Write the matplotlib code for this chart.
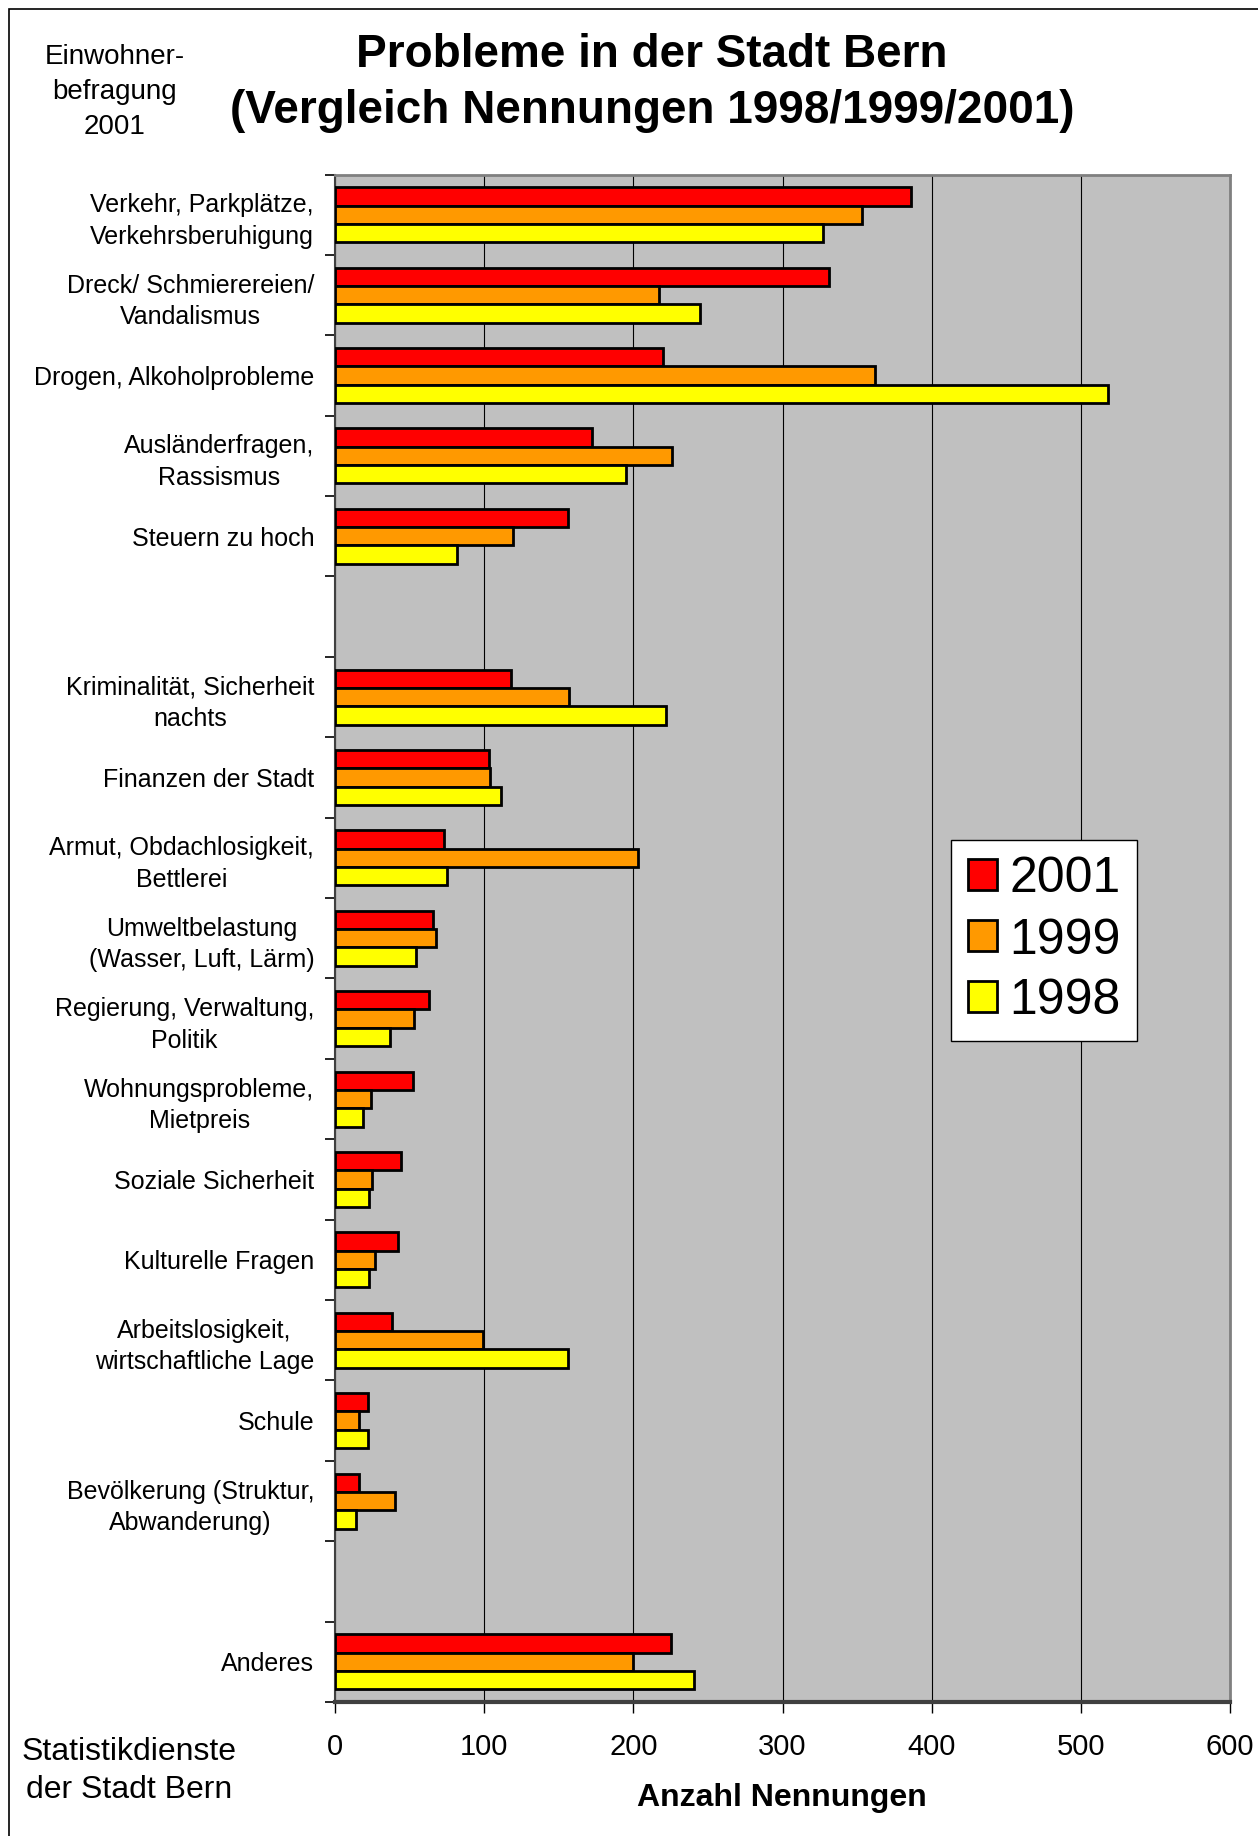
import matplotlib.pyplot as plt
import numpy as np

plt.rcParams['font.family'] = ['Liberation Sans', 'DejaVu Sans']

# categories from top to bottom, '' = empty slot in the chart
labels = [
    "Verkehr, Parkplätze,\nVerkehrsberuhigung",
    "Dreck/ Schmierereien/\nVandalismus",
    "Drogen, Alkoholprobleme",
    "Ausländerfragen,\nRassismus",
    "Steuern zu hoch",
    "",
    "Kriminalität, Sicherheit\nnachts",
    "Finanzen der Stadt",
    "Armut, Obdachlosigkeit,\nBettlerei",
    "Umweltbelastung\n(Wasser, Luft, Lärm)",
    "Regierung, Verwaltung,\nPolitik",
    "Wohnungsprobleme,\nMietpreis",
    "Soziale Sicherheit",
    "Kulturelle Fragen",
    "Arbeitslosigkeit,\nwirtschaftliche Lage",
    "Schule",
    "Bevölkerung (Struktur,\nAbwanderung)",
    "",
    "Anderes",
]

v2001 = [386, 331, 220, 172, 156, None, 118, 103, 73, 66, 63, 52, 44, 42, 38, 22, 16, None, 225]
v1999 = [353, 217, 362, 226, 119, None, 157, 104, 203, 68, 53, 24, 25, 27, 99, 16, 40, None, 200]
v1998 = [327, 245, 518, 195, 82, None, 222, 111, 75, 54, 37, 19, 23, 23, 156, 22, 14, None, 241]

series = [("2001", v2001, "#FF0000"), ("1999", v1999, "#FF9900"), ("1998", v1998, "#FFFF00")]

fig = plt.figure(figsize=(12.58, 18.36), dpi=100)
ax = fig.add_axes([335 / 1258, 1 - 1702 / 1836, (1230 - 335) / 1258, (1702 - 174.5) / 1836])
ax.set_facecolor("#C0C0C0")

n = len(labels)
h = 0.228
for k, (name, vals, col) in enumerate(series):
    idx = [i for i, v in enumerate(vals) if v is not None]
    ys = np.array(idx) + (k - 1) * h
    ax.barh(ys, [vals[i] for i in idx], height=h, color=col, edgecolor="black",
            linewidth=2, label=name, zorder=3)

ax.set_xlim(0, 600)
ax.set_ylim(n - 0.5, -0.5)
ax.set_xticks(range(0, 601, 100))
ax.xaxis.grid(True, color="black", linewidth=0.8, zorder=0)
ax.tick_params(axis="x", length=8, width=1, labelsize=21, pad=14, direction="out")

ax.set_yticks(np.arange(-0.5, n, 1))
ax.set_yticklabels([])
ax.tick_params(axis="y", which="major", length=7, width=1.2, direction="out")
ax.set_yticks(range(n), minor=True)
ax.set_yticklabels(labels, minor=True, fontsize=18, multialignment="center", linespacing=1.4)
ax.tick_params(axis="y", which="minor", length=0, pad=15)

for s in ["top", "right"]:
    ax.spines[s].set_color("#808080")
    ax.spines[s].set_linewidth(2)
ax.spines["left"].set_color("#404040")
ax.spines["left"].set_linewidth(1.5)
ax.spines["bottom"].set_color("#404040")
ax.spines["bottom"].set_linewidth(3)

leg = ax.legend(loc="upper left", bbox_to_anchor=((951 - 335) / 895, 1 - (840 - 174.5) / 1527.5),
                fontsize=36, frameon=True, fancybox=False, edgecolor="black", framealpha=1,
                handlelength=0.58, handleheight=0.58, handletextpad=0.25, borderpad=0.33,
                labelspacing=0.3, borderaxespad=0)
leg.get_frame().set_linewidth(1)
leg.get_frame().set_facecolor("white")

fig.text(652 / 1258, 1 - 55 / 1836, "Probleme in der Stadt Bern", ha="center", va="center",
         fontsize=33, fontweight="bold")
fig.text(652 / 1258, 1 - 111 / 1836, "(Vergleich Nennungen 1998/1999/2001)", ha="center",
         va="center", fontsize=33, fontweight="bold")
fig.text(115 / 1258, 1 - 92 / 1836, "Einwohner-\nbefragung\n2001", ha="center", va="center",
         fontsize=20, linespacing=1.45)
fig.text(129 / 1258, 1 - 1771 / 1836, "Statistikdienste\nder Stadt Bern", ha="center",
         va="center", fontsize=23, linespacing=1.38)
fig.text(782 / 1258, 1 - 1798 / 1836, "Anzahl Nennungen", ha="center", va="center",
         fontsize=23, fontweight="bold")

# outer frame
fig.add_artist(plt.Rectangle((9 / 1258, -0.01), 1.1, 1 - 9 / 1836 + 0.01, transform=fig.transFigure,
                             fill=False, edgecolor="black", linewidth=1.2))

fig.savefig("out.png", dpi=100)
